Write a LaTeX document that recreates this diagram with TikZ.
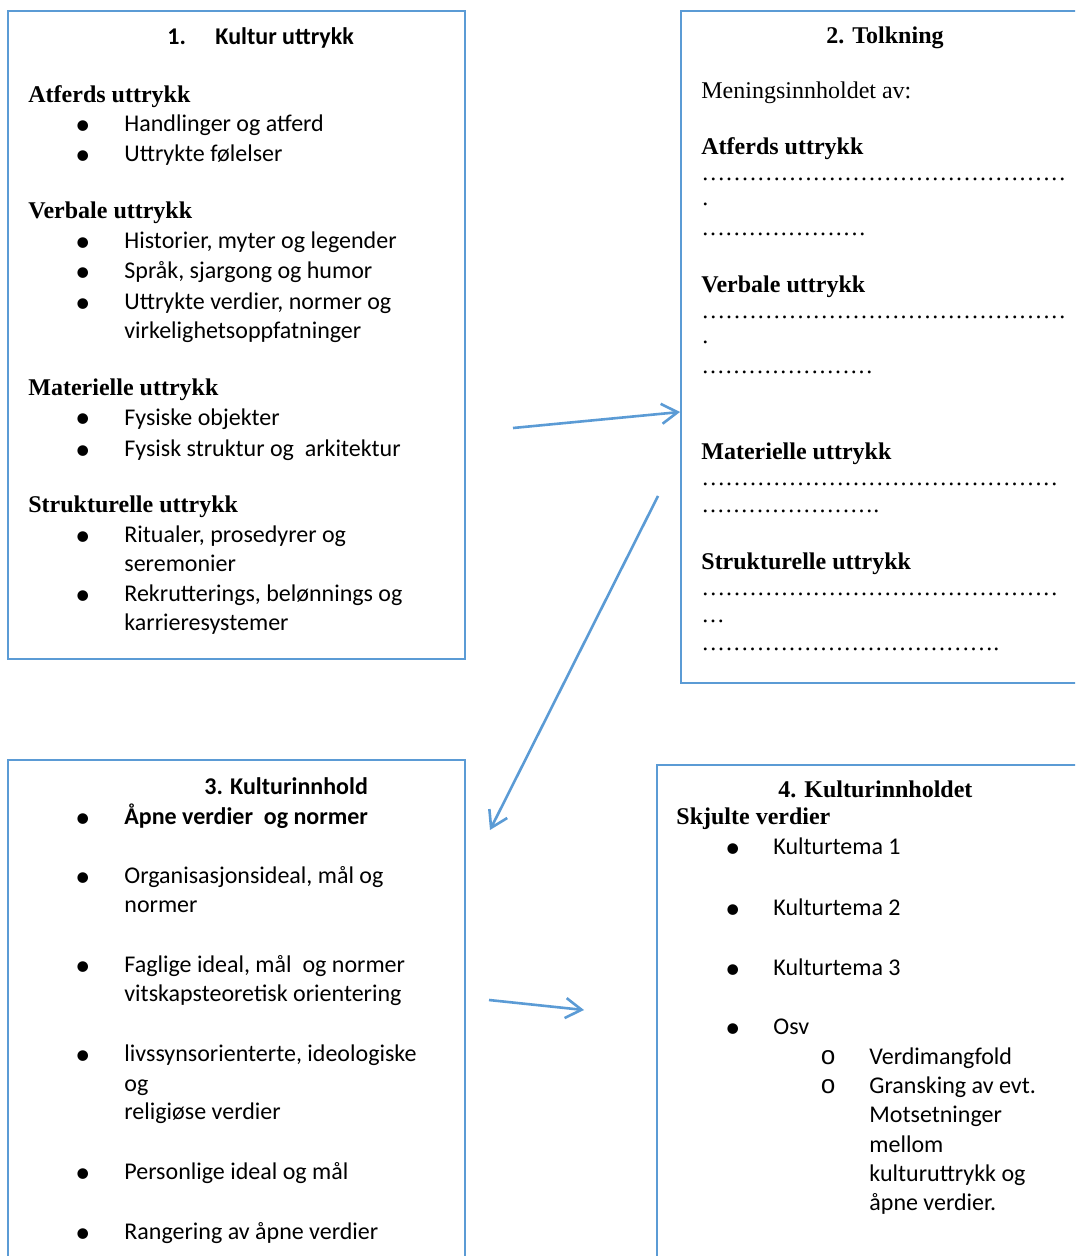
\documentclass[tikz,border=0pt]{standalone}
\usepackage{fontspec}
\setmainfont{Liberation Serif}
\newfontfamily\calibrifont{Carlito}
\newfontfamily\circfont{Liberation Mono}
\usepackage{tikz}
\usetikzlibrary{arrows.meta}
\definecolor{boxblue}{RGB}{91,155,213}
\newcommand\dotrow[1]{\hbox to #1{\xleaders\hbox to 3.9pt{\hss.\hss}\hfill}}

\begin{document}
\begin{tikzpicture}[x=0.5pt,y=-0.5pt,
  txt/.style={anchor=base west,inner sep=0pt,font=\fontsize{12}{14}\selectfont\calibrifont},
  btxt/.style={txt,font=\fontsize{12}{14}\selectfont\calibrifont\bfseries},
  head/.style={anchor=base west,inner sep=0pt,font=\fontsize{12}{14}\selectfont\bfseries},
  plain/.style={anchor=base west,inner sep=0pt,font=\fontsize{12}{14}\selectfont},
  bul/.style={anchor=base west,inner sep=0pt,yshift=-1.5pt,font=\fontsize{15}{15}\selectfont\calibrifont},
  sub/.style={anchor=base west,inner sep=0pt,font=\fontsize{13}{14}\selectfont\circfont},
  frame/.style={draw=boxblue,line width=1pt},
  link/.style={draw=boxblue,line width=1.3pt,-{Straight Barb[length=8pt,width=10pt]}}]
\clip (0,0) rectangle (1075,1256);
% boxes:
\path[frame] (8,11) rectangle (465,659);
\path[frame] (681,11) rectangle (1090,683);
\path[frame] (8,760) rectangle (465,1270);
\path[frame] (657,765) rectangle (1090,1270);
% box 1:
\node[btxt] (k-title) at (167,45) {1.\hspace{14.7pt}Kultur uttrykk};
\node[head] (k-atf) at (28,103) {Atferds uttrykk};
\node[bul] (k-b1) at (75,132) {•};
\node[txt] (k-t1) at (124,132) {Handlinger og atferd};
\node[bul] (k-b2) at (75,162) {•};
\node[txt] (k-t2) at (124,162) {Uttrykte følelser};
\node[head] (k-verb) at (28,219) {Verbale uttrykk};
\node[bul] (k-b3) at (75,249) {•};
\node[txt] (k-t3) at (124,249) {Historier, myter og legender};
\node[bul] (k-b4) at (75,279) {•};
\node[txt] (k-t4) at (124,279) {Språk, sjargong og humor};
\node[bul] (k-b5) at (75,310) {•};
\node[txt] (k-t5) at (124,310) {Uttrykte verdier, normer og};
\node[txt] (k-t5b) at (124,339) {virkelighetsoppfatninger};
\node[head] (k-mat) at (28,396) {Materielle uttrykk};
\node[bul] (k-b6) at (75,425) {•};
\node[txt] (k-t6) at (124,425) {Fysiske objekter};
\node[bul] (k-b7) at (75,456) {•};
\node[txt] (k-t7) at (124,456) {Fysisk struktur og\ \ arkitektur};
\node[head] (k-str) at (28,512) {Strukturelle uttrykk};
\node[bul] (k-b8) at (75,542) {•};
\node[txt] (k-t8) at (124,542) {Ritualer, prosedyrer og};
\node[txt] (k-t8b) at (124,571) {seremonier};
\node[bul] (k-b9) at (75,601) {•};
\node[txt] (k-t9) at (124,601) {Rekrutterings, belønnings og};
\node[txt] (k-t9b) at (124,630) {karrieresystemer};
% box 2:
\node[head] (t-title) at (826,44) {2. Tolkning};
\node[plain] (t-intro) at (701,99) {Meningsinnholdet av:};
\node[head] (t-atf) at (701,155) {Atferds uttrykk};
\node[plain] (t-d1) at (701,181) {\dotrow{182.5pt}};
\node[plain] (t-d2) at (702,206) {.};
\node[plain] (t-d3) at (701,236) {\dotrow{82.5pt}};
\node[head] (t-verb) at (701,293) {Verbale uttrykk};
\node[plain] (t-d4) at (701,319) {\dotrow{182.5pt}};
\node[plain] (t-d5) at (702,344) {.};
\node[plain] (t-d6) at (701,374) {\dotrow{86pt}};
\node[head] (t-mat) at (701,459) {Materielle uttrykk};
\node[plain] (t-d7) at (701,485) {\dotrow{178.5pt}};
\node[plain] (t-d8) at (701,512) {\dotrow{86pt}.};
\node[head] (t-str) at (701,569) {Strukturelle uttrykk};
\node[plain] (t-d9) at (701,595) {\dotrow{178.5pt}};
\node[plain] (t-d10) at (701,622) {\dotrow{11.7pt}};
\node[plain] (t-d11) at (701,650) {\dotrow{146pt}.};
% box 3:
\node[btxt] (i-title) at (204,794) {3. Kulturinnhold};
\node[bul] (i-b1) at (75,824) {•};
\node[btxt] (i-t1) at (124,824) {Åpne verdier\ \ og normer};
\node[bul] (i-b2) at (75,883) {•};
\node[txt] (i-t2) at (124,883) {Organisasjonsideal, mål og};
\node[txt] (i-t2b) at (124,912) {normer};
\node[bul] (i-b3) at (75,972) {•};
\node[txt] (i-t3) at (124,972) {Faglige ideal, mål\ \ og normer};
\node[txt] (i-t3b) at (124,1001) {vitskapsteoretisk orientering};
\node[bul] (i-b4) at (75,1061) {•};
\node[txt] (i-t4) at (124,1061) {livssynsorienterte, ideologiske};
\node[txt] (i-t4b) at (124,1091) {og};
\node[txt] (i-t4c) at (124,1119) {religiøse verdier};
\node[bul] (i-b5) at (75,1179) {•};
\node[txt] (i-t5) at (124,1179) {Personlige ideal og mål};
\node[bul] (i-b6) at (75,1239) {•};
\node[txt] (i-t6) at (124,1239) {Rangering av åpne verdier};
% box 4:
\node[head] (s-title) at (778,797) {4. Kulturinnholdet};
\node[head] (s-head) at (676,824) {Skjulte verdier};
\node[bul] (s-b1) at (725,854) {•};
\node[txt] (s-t1) at (773,854) {Kulturtema 1};
\node[bul] (s-b2) at (725,915) {•};
\node[txt] (s-t2) at (773,915) {Kulturtema 2};
\node[bul] (s-b3) at (725,975) {•};
\node[txt] (s-t3) at (773,975) {Kulturtema 3};
\node[bul] (s-b4) at (725,1034) {•};
\node[txt] (s-t4) at (773,1034) {Osv};
\node[sub] (s-c1) at (820,1064) {o};
\node[txt] (s-u1) at (869,1064) {Verdimangfold};
\node[sub] (s-c2) at (820,1093) {o};
\node[txt] (s-u2) at (869,1093) {Gransking av evt.};
\node[txt] (s-u2b) at (869,1122) {Motsetninger};
\node[txt] (s-u2c) at (869,1152) {mellom};
\node[txt] (s-u2d) at (869,1181) {kulturuttrykk og};
\node[txt] (s-u2e) at (869,1210) {åpne verdier.};
% arrows:
\coordinate (a1s) at (513,428);
\coordinate (a1e) at (680,412);
\coordinate (a2s) at (658,496);
\coordinate (a2e) at (490,830);
\coordinate (a3s) at (489,1000);
\coordinate (a3e) at (584,1010);
\draw[link] (a1s) -- (a1e);
\draw[link] (a2s) -- (a2e);
\draw[link] (a3s) -- (a3e);
\end{tikzpicture}
\end{document}
